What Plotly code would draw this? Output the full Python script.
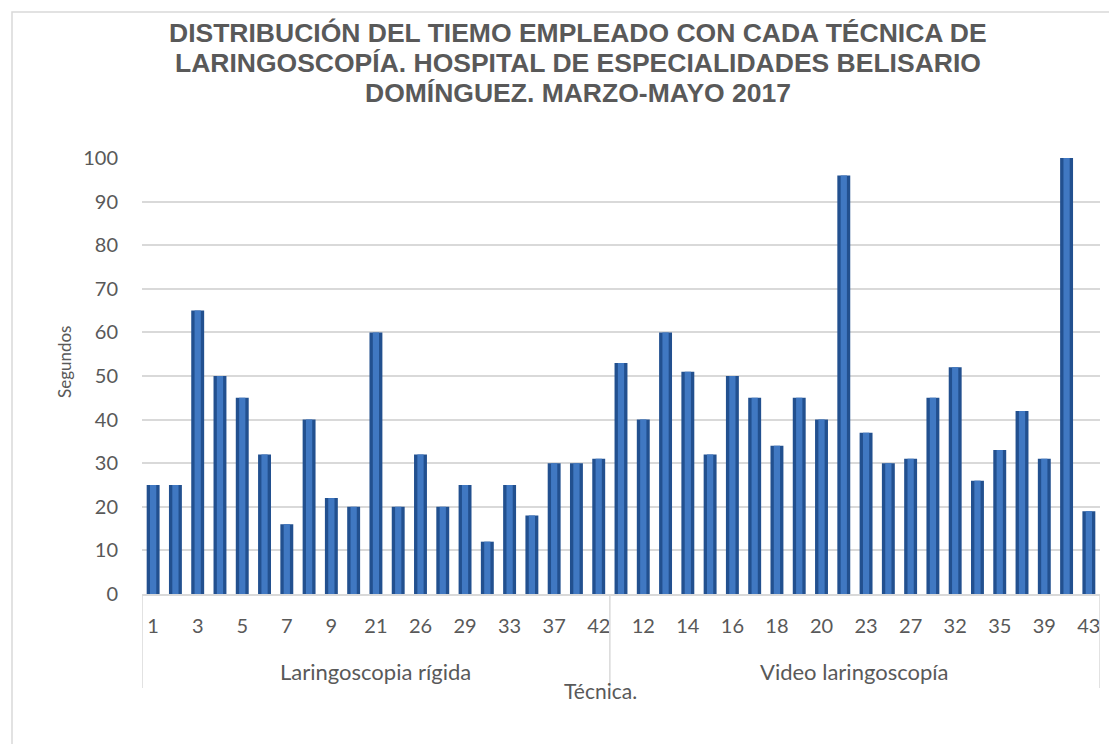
import plotly.graph_objects as go

# --- data ---
GROUPS = ["Laringoscopia rígida", "Video laringoscopía"]

rigida_ids = [1, 2, 3, 4, 5, 6, 7, 8, 9, 10, 21, 25, 26, 28, 29, 31, 33, 36, 37, 40, 42]
rigida_seg = [25, 25, 65, 50, 45, 32, 16, 40, 22, 20, 60, 20, 32, 20, 25, 12, 25, 18, 30, 30, 31]

video_ids = [11, 12, 13, 14, 15, 16, 17, 18, 19, 20, 22, 23, 24, 27, 30, 32, 34, 35, 38, 39, 41, 43]
video_seg = [53, 40, 60, 51, 32, 50, 45, 34, 45, 40, 96, 37, 30, 31, 45, 52, 26, 33, 42, 31, 100, 19]

y_ticks = list(range(0, 101, 10))

TITLE_LINES = [
    "DISTRIBUCIÓN DEL TIEMO EMPLEADO CON CADA TÉCNICA DE",
    "LARINGOSCOPÍA. HOSPITAL DE ESPECIALIDADES BELISARIO",
    "DOMÍNGUEZ. MARZO-MAYO 2017",
]

# --- style ---
OFF = 8                      # page body margin around the plot div
W, H = 1117 - OFF, 744 - OFF
# plot box in screenshot pixels: x 142..1100, y 158..594
M_L, M_R, M_T, M_B = 142 - OFF, W - (1100 - OFF), 158 - OFF, H - (594 - OFF)
TXT = "#595959"
GRID = "#D9D9D9"
FRAME = "#D9D9D9"
BAR_DARK = "#22508F"
BAR_LIGHT = "#4078C2"
FONT = "Lato, 'Open Sans', sans-serif"
TFONT = "Liberation Sans, Arial, sans-serif"

cats = [str(i) for i in rigida_ids + video_ids]
vals = rigida_seg + video_seg
n_r, n_v = len(rigida_ids), len(video_ids)

fig = go.Figure()
fig.add_trace(go.Bar(
    x=cats, y=vals, width=0.58,
    marker=dict(color=BAR_DARK, line=dict(width=0)),
    hoverinfo="skip", showlegend=False,
))
fig.add_trace(go.Bar(
    x=cats, y=vals, width=0.28,
    marker=dict(color=BAR_LIGHT, line=dict(width=0)),
    hovertemplate="%{x}: %{y} s<extra></extra>", showlegend=False,
))

# screenshot pixel -> paper helpers
pw, ph = W - M_L - M_R, H - M_T - M_B


def px_x(p):
    return (p - OFF - M_L) / pw


def px_y(p):
    return (H - M_B - (p - OFF)) / ph


def note(text, x, y, size, xref="paper", family=FONT, **kw):
    return dict(text=text, x=x, xref=xref, y=px_y(y), yref="paper",
                xanchor="center", yanchor="middle", showarrow=False,
                font=dict(family=family, size=size, color=TXT), **kw)


shapes = [
    # outer chart frame
    dict(type="rect", xref="paper", yref="paper",
         x0=px_x(12), x1=px_x(1140), y0=px_y(770), y1=px_y(12),
         line=dict(color=FRAME, width=1.5), fillcolor="rgba(0,0,0,0)", layer="below"),
]
# group dividers under the category axis
for xb in (-0.5, n_r - 0.5, n_r + n_v - 0.5):
    shapes.append(dict(type="line", xref="x", yref="paper", x0=xb, x1=xb,
                       y0=0, y1=px_y(688), line=dict(color=GRID, width=1.5)))

annotations = [
    note(GROUPS[0], (n_r - 1) / 2, 671, 22, xref="x"),
    note(GROUPS[1], n_r + (n_v - 1) / 2, 671, 22, xref="x"),
    note("Técnica.", px_x(600), 690, 21),
    note("Segundos", px_x(64), 362, 17, textangle=-90),
]
for i, line in enumerate(TITLE_LINES):
    annotations.append(note("<b>" + line + "</b>", px_x(578), 33 + 30 * i, 26.5, family=TFONT))

fig.update_layout(
    width=W, height=H,
    margin=dict(l=M_L, r=M_R, t=M_T, b=M_B, autoexpand=False),
    paper_bgcolor="white", plot_bgcolor="white",
    barmode="overlay",
    font=dict(family=FONT, size=20, color=TXT),
    shapes=shapes, annotations=annotations,
    xaxis=dict(
        type="category", tickmode="array",
        tickvals=cats[::2], ticktext=cats[::2],
        showgrid=False, showline=True, linecolor=GRID, linewidth=1.5,
        ticks="", ticklabelstandoff=13,
        tickfont=dict(family=FONT, size=20, color=TXT),
        range=[-0.5, len(cats) - 0.5], fixedrange=True,
    ),
    yaxis=dict(
        range=[0, 100], tickvals=y_ticks, showgrid=True, gridcolor=GRID, gridwidth=1.5,
        zeroline=False, showline=False, ticks="", ticklabelstandoff=23,
        tickfont=dict(family=FONT, size=20, color=TXT), fixedrange=True,
    ),
)

fig.write_html("out.html")
